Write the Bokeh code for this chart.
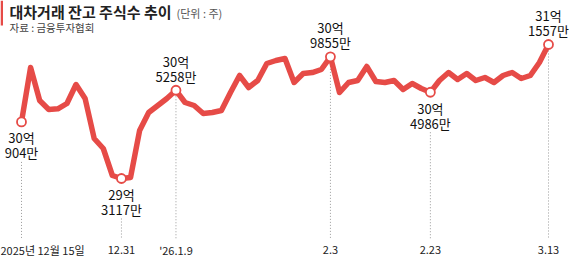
from bokeh.plotting import figure
from bokeh.models import Range1d, Label
from bokeh.embed import file_html
from bokeh.resources import INLINE
from bokeh.core.properties import value

# 대차거래 잔고 주식수 (단위: 만주), 거래일 순서
balance = [300904, 308391, 303850, 302611, 302700, 303437, 306051, 304125, 298621, 297245,
           293530, 293117, 293255, 299722, 302199, 303162, 304125, 305258, 303575, 303162,
           302061, 302199, 302474, 304951, 307290, 305639, 306602, 308941, 309354, 309629,
           306327, 307565, 307700, 308115, 309855, 304951, 306327, 306602, 308528, 306465,
           306327, 306602, 305363, 306189, 305501, 304986, 306602, 307703, 306739, 307565,
           306602, 307015, 306327, 307290, 307703, 306877, 307290, 309079, 311557]

tick_idx = [0, 11, 17, 34, 45, 58]
tick_labels = ["2025년 12월 15일", "12.31", "'26.1.9", "2.3", "2.23", "3.13"]
label_below = [True, True, False, False, True, False]

W, H = 570, 258
LINE_COLOR = "#E64B47"
FONT = "Noto Sans CJK KR"

n = len(balance)
xs = list(range(n))

# layout: index 0 at 21px, last index at 548px; value range chosen to fill frame
px_per_idx = (548 - 21) / (n - 1)
x0 = -21 / px_per_idx
x1 = x0 + W / px_per_idx
y0, y1 = 282109, 317610
units_per_px = (y1 - y0) / H


def py(px_from_top):
    return y1 - px_from_top * units_per_px


def px(px_from_left):
    return x0 + px_from_left / px_per_idx


p = figure(width=W, height=H, x_range=Range1d(x0, x1), y_range=Range1d(y0, y1),
           x_axis_location=None, y_axis_location=None, toolbar_location=None,
           output_backend="svg", min_border=0, outline_line_color=None)
p.xgrid.visible = False
p.ygrid.visible = False
p.background_fill_color = "white"
p.border_fill_color = "white"

# dotted guides
bottom = py(238)
seg_x, seg_top, seg_bot = [], [], []
for i, below in zip(tick_idx, label_below):
    v = balance[i]
    top = v - 40 * units_per_px if below else v
    seg_x.append(i)
    seg_top.append(top)
    seg_bot.append(bottom)
p.segment(x0=seg_x, y0=seg_top, x1=seg_x, y1=seg_bot, line_color="#9a9a9a",
          line_width=1, line_dash="1 2")

p.line(xs, balance, line_width=5.5, line_color=LINE_COLOR, line_join="round", line_cap="round")

mx = tick_idx
my = [balance[i] for i in tick_idx]
p.scatter(mx, my, size=9, fill_color="white", line_color=LINE_COLOR, line_width=1.8)

# value annotations
for i, below in zip(tick_idx, label_below):
    v = balance[i]
    eok = f"{v // 10000}억"
    man = f"{v % 10000}만"
    o1, o2 = (16, 31) if below else (-29, -14)
    for t, off in ((eok, o1), (man, o2)):
        p.text(x=[i], y=[v], text=[t], y_offset=off, text_align="center",
               text_baseline="middle", text_font=value(FONT), text_font_size="13px",
               text_color="#111111")

# x tick labels
for k, (i, t) in enumerate(zip(tick_idx, tick_labels)):
    if k == 0:
        p.text(x=[px(0)], y=[py(249)], text=[t], text_align="left", text_baseline="middle",
               text_font=value(FONT), text_font_size="11px", text_color="#222222")
    else:
        p.text(x=[i], y=[py(249)], text=[t], text_align="center", text_baseline="middle",
               text_font=value(FONT), text_font_size="11px", text_color="#222222")

# red bar at top-left
p.quad(left=[px(0)], right=[px(2.5)], top=[py(0)], bottom=[py(25)],
       fill_color=LINE_COLOR, line_color=None)

p.add_layout(Label(x=9, y=H - 11, x_units="screen", y_units="screen", text="대차거래 잔고 주식수 추이",
                   text_font=FONT, text_font_size="15px", text_font_style="bold",
                   text_color="#222222", text_baseline="middle"))
p.add_layout(Label(x=176, y=H - 12, x_units="screen", y_units="screen", text="(단위 : 주)",
                   text_font=FONT, text_font_size="11px", text_color="#555555",
                   text_baseline="middle"))
p.add_layout(Label(x=9, y=H - 27, x_units="screen", y_units="screen", text="자료 : 금융투자협회",
                   text_font=FONT, text_font_size="10.5px", text_color="#444444",
                   text_baseline="middle"))

open("out.html", "w").write(file_html(p, INLINE))
